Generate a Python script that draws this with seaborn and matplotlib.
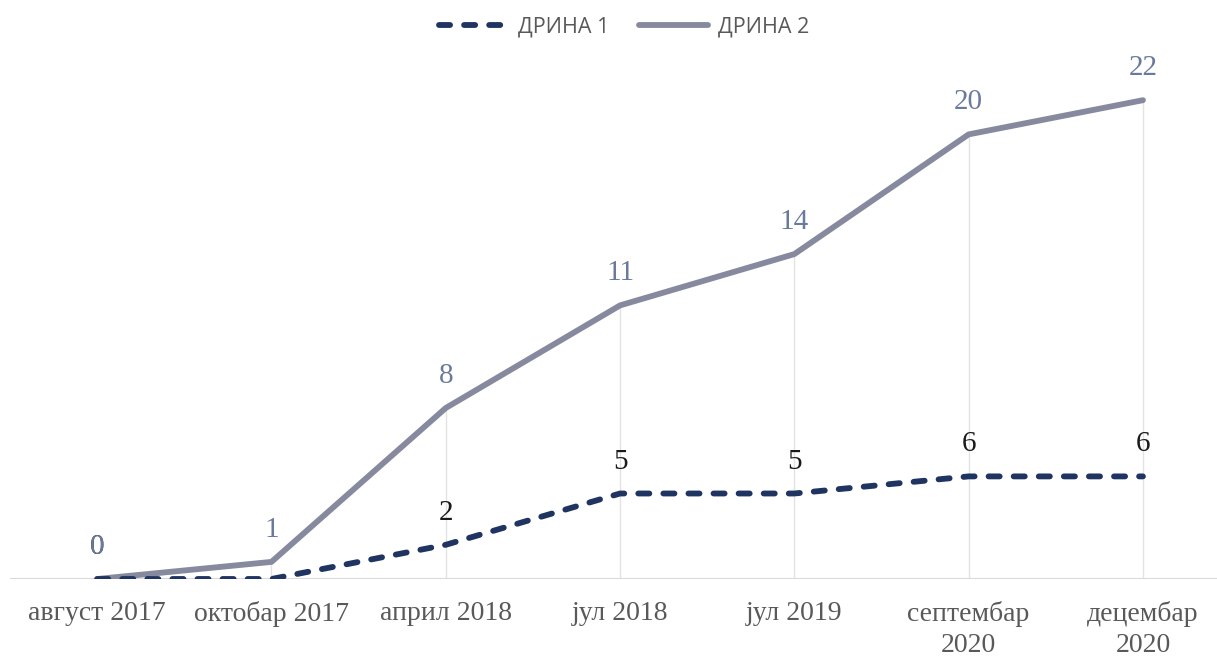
import pandas as pd
import numpy as np
import matplotlib
matplotlib.use("Agg")
import matplotlib.pyplot as plt
import seaborn as sns

# data
categories = ["август 2017", "октобар 2017", "април 2018", "јул 2018",
              "јул 2019", "септембар\n2020", "децембар\n2020"]
drina1 = [0, 0, 2, 5, 5, 6, 6]
drina2 = [0, 1, 8, 11, 14, 20, 22]

# naslagane linije (stacked line)
top2 = np.array(drina1) + np.array(drina2)
df = pd.DataFrame({"kat": categories, "d1": drina1, "d2": top2})

sns.set_style("white")
fig = plt.figure(figsize=(12.17, 6.57), dpi=100)
ax = fig.add_axes([10 / 1217, 78 / 657, 1207 / 1217, 519 / 657])

c1 = "#1f3461"
c2 = "#878a9e"

x = np.arange(len(categories))
ax.vlines(x[1:], 0, top2[1:], color="#e3e3e3", lw=1, zorder=1)

sns.lineplot(data=df, x="kat", y="d1", ax=ax, color=c1, lw=4.2, sort=False,
             linestyle=(0, (1.9, 2.4)), dash_capstyle="round", label="ДРИНА 1", zorder=3)
sns.lineplot(data=df, x="kat", y="d2", ax=ax, color=c2, lw=4.2, sort=False,
             solid_capstyle="round", label="ДРИНА 2", zorder=2)

ax.set_xlim(-0.5, -0.5 + 1207 / 174.3)
ax.set_ylim(0, 30.35)
ax.axhline(0, color="#d9d9d9", lw=1.5, zorder=1)

for i in range(len(categories)):
    if i != 1:  # ознака 0 за октобар није приказана
        ax.annotate(str(drina1[i]), (i, drina1[i]), xytext=(0, 23), textcoords="offset points",
                    ha="center", va="center", fontsize=21, family="Liberation Serif", color="#1a1a1a")
    ax.annotate(str(drina2[i]), (i, top2[i]), xytext=(0, 23), textcoords="offset points",
                ha="center", va="center", fontsize=21, family="Liberation Serif", color="#6a7a9c")

ax.set_xticks(x)
ax.set_xticklabels(categories, fontsize=20, family="Liberation Serif", color="#595959",
                   linespacing=1.3)
ax.tick_params(axis="x", length=0, pad=16)
ax.set_yticks([])
ax.set_xlabel("")
ax.set_ylabel("")
sns.despine(ax=ax, left=True, bottom=True)

ax.legend_.remove()
h, l = ax.get_legend_handles_labels()
fig.legend(h, l, loc="upper center", bbox_to_anchor=(0.513, 1.005), ncol=2, frameon=False,
           handlelength=3.2, columnspacing=1.4, handletextpad=0.45,
           prop={"family": "Open Sans", "size": 15.5}, labelcolor="#595959")

fig.savefig("out.png", dpi=100)
